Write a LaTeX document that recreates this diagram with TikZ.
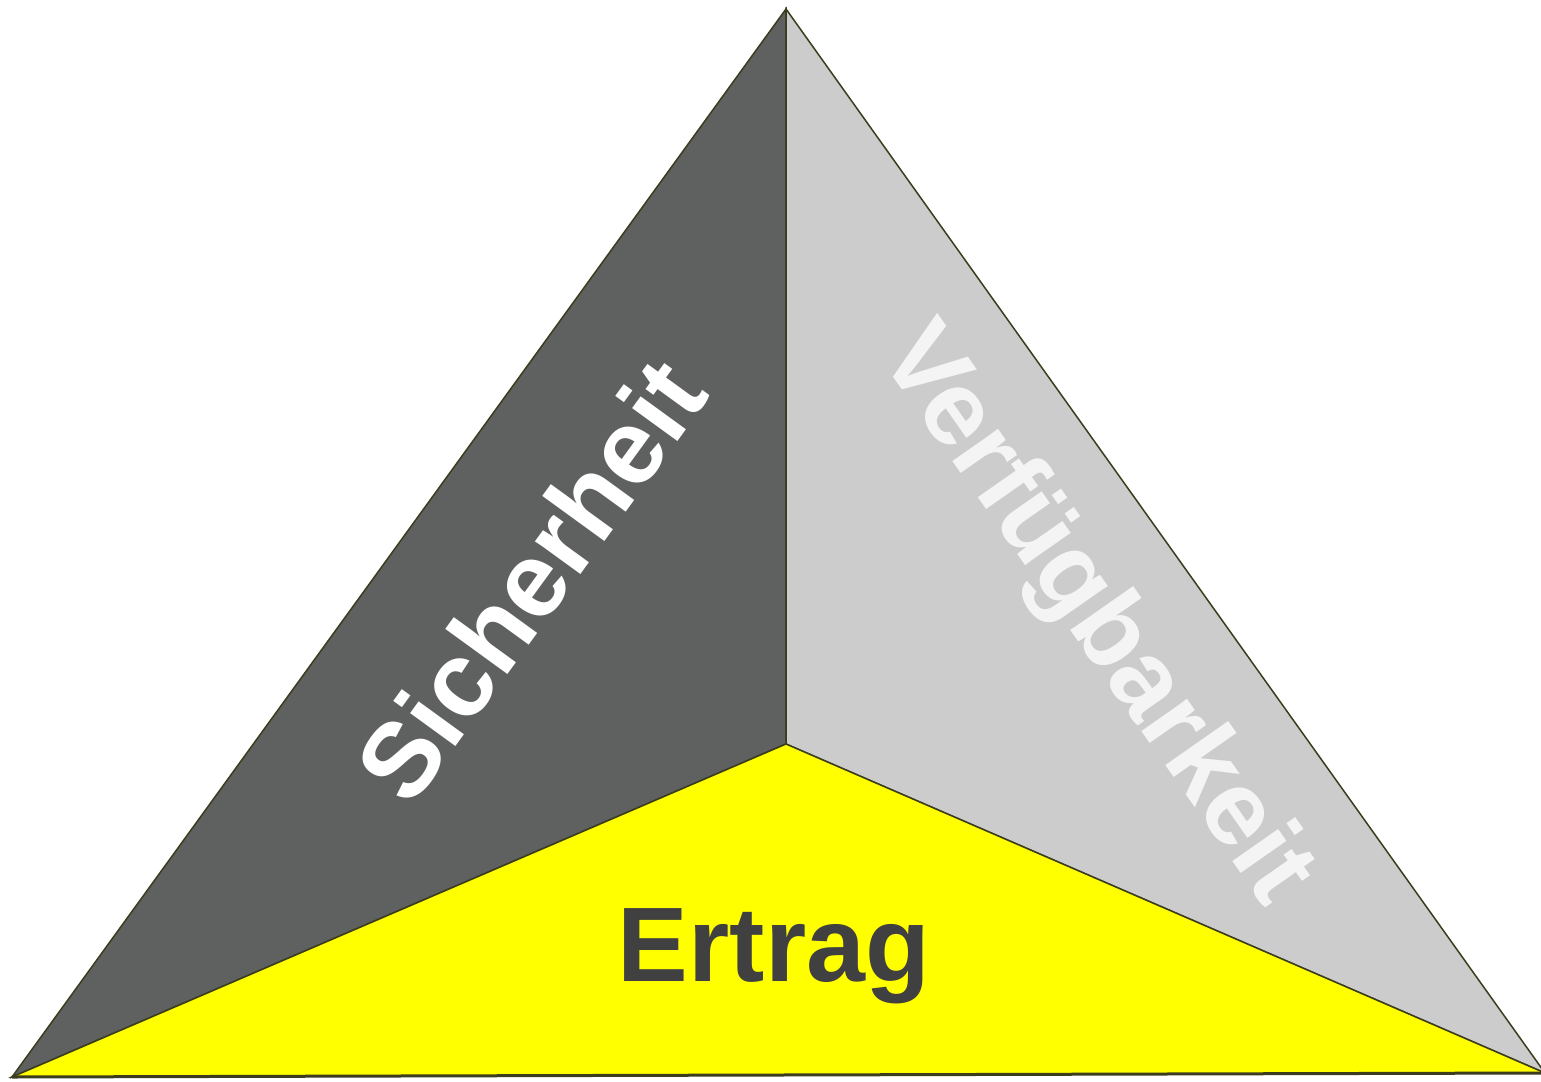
\documentclass[tikz,border=0pt]{standalone}
\usepackage{fontspec}
\setmainfont{Liberation Sans}
\definecolor{darkface}{HTML}{5F6060}
\definecolor{lightface}{HTML}{CCCCCC}
\definecolor{yellowface}{HTML}{FFFF00}
\definecolor{edgecol}{HTML}{3C3C1E}
\definecolor{ertragcol}{HTML}{404040}
\definecolor{verfcol}{HTML}{F4F4F4}
\begin{document}
\begin{tikzpicture}[x=1pt,y=-1pt,
  face/.style={draw=edgecol,line width=1.5pt,line join=miter},
  bigtext/.style={font=\bfseries\fontsize{106}{106}\selectfont,inner sep=0pt}]
\useasboundingbox (0,0) rectangle (1541,1081);
\clip (0,0) rectangle (1541,1081);
\coordinate (A) at (786,9);
\coordinate (L) at (12,1077);
\coordinate (R) at (1545,1073);
\coordinate (C) at (786,744);
\fill[white] (0,0) rectangle (1541,1081);
\filldraw[face,fill=darkface] (A) -- (C) -- (L) -- cycle;
\filldraw[face,fill=lightface] (A) -- (R) -- (C) -- cycle;
\filldraw[face,fill=yellowface] (L) -- (C) -- (R) -- cycle;
\draw[edgecol,line width=3pt] (L) -- (R);
\node[bigtext,text=white,rotate=54] (sich) at (530,580) {Sicherheit};
\node[bigtext,text=verfcol,rotate=-55] (verf) at (1094,616) {Verfügbarkeit};
\node[bigtext,text=ertragcol,anchor=base] (ertrag) at (774,981) {Ertrag};
\end{tikzpicture}
\end{document}
